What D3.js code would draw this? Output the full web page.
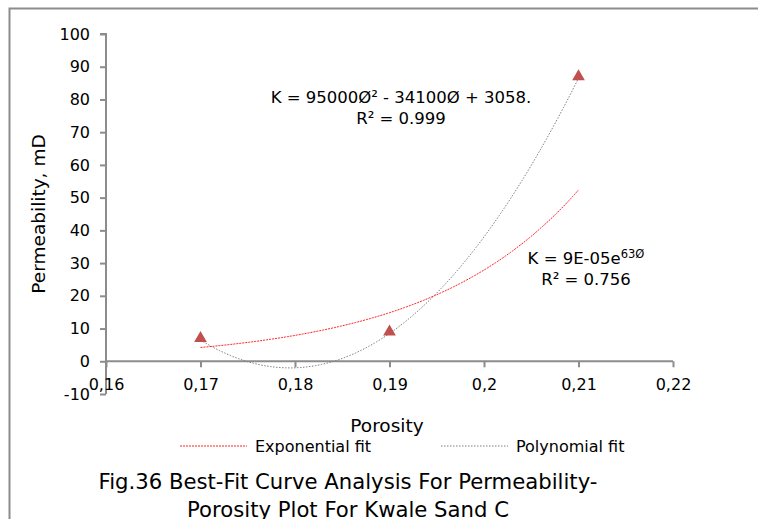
<!DOCTYPE html>
<html>
<head>
<meta charset="utf-8">
<script src="https://cdn.jsdelivr.net/npm/d3@7"></script>
<style>
  body { margin: 0; background: #fff; }
  text { font-family: "DejaVu Sans", Verdana, sans-serif; fill: #000; }
</style>
</head>
<body>
<div id="vis"></div>
<script>
// measured data points (porosity, permeability mD)
var porosity = [0.17, 0.19, 0.21];
var permeability = [7, 9, 87];

// trendline coefficients as labelled on the chart
var polyCoef = [95000, -34100, 3058];   // a*x^2 + b*x + c
var expCoef = [9.4e-5, 63];             // a*e^(b*x)

var xTicks = [0.16, 0.17, 0.18, 0.19, 0.2, 0.21, 0.22];
var yTicks = [-10, 0, 10, 20, 30, 40, 50, 60, 70, 80, 90, 100];

var width = 758, height = 519;

var svg = d3.select('#vis').append('svg')
  .attr('width', width)
  .attr('height', height);

// outer frame (runs off right and bottom edges)
svg.append('rect')
  .attr('x', 9.5).attr('y', 8.5)
  .attr('width', 800).attr('height', 600)
  .attr('fill', 'none')
  .attr('stroke', '#8c8c8c')
  .attr('stroke-width', 2);

var x = d3.scaleLinear().domain([0.16, 0.22]).range([106, 673]);
var y = d3.scaleLinear().domain([-10, 100]).range([394, 34]);

var axisColor = '#8c8c8c';

// y axis
var yAxis = svg.append('g')
  .attr('transform', 'translate(' + x(0.16) + ',0)')
  .call(d3.axisLeft(y).tickValues(yTicks).tickSize(6).tickPadding(10)
    .tickFormat(function (d) { return String(d); }));

// x axis crossing at y = 0
var xAxis = svg.append('g')
  .attr('transform', 'translate(0,' + y(0) + ')')
  .call(d3.axisBottom(x).tickValues(xTicks).tickSize(6).tickPadding(11)
    .tickFormat(function (d) { return String(+d.toFixed(2)).replace('.', ','); }));

[yAxis, xAxis].forEach(function (g) {
  g.select('.domain').attr('stroke', axisColor).attr('stroke-width', 2);
  g.selectAll('.tick line').attr('stroke', axisColor).attr('stroke-width', 2);
  g.selectAll('.tick text').attr('font-size', 16).attr('fill', '#000')
    .style('font-family', '"DejaVu Sans", Verdana, sans-serif');
});
yAxis.select('.domain').attr('d', 'M-6,' + y(100) + 'H0V' + y(-10));
xAxis.select('.domain').attr('d', 'M' + x(0.16) + ',0H' + x(0.22));
xAxis.selectAll('.tick text').attr('dy', '0.71em');

// trendlines
var curveX = d3.range(0, 201).map(function (i) { return 0.17 + i * 0.0002; });
var line = d3.line()
  .x(function (d) { return x(d[0]); })
  .y(function (d) { return y(d[1]); });

var polyPts = curveX.map(function (v) {
  return [v, polyCoef[0] * v * v + polyCoef[1] * v + polyCoef[2]];
});
var expPts = curveX.map(function (v) {
  return [v, expCoef[0] * Math.exp(expCoef[1] * v)];
});

svg.append('path')
  .attr('d', line(expPts))
  .attr('fill', 'none')
  .attr('stroke', '#ff2020')
  .attr('stroke-width', 1)
  .attr('stroke-dasharray', '2,1');

svg.append('path')
  .attr('d', line(polyPts))
  .attr('fill', 'none')
  .attr('stroke', '#7f7f7f')
  .attr('stroke-width', 1)
  .attr('stroke-dasharray', '1.5,1.5');

// markers
var tri = d3.symbol().type(d3.symbolTriangle).size(70);
svg.selectAll('.pt')
  .data(porosity)
  .enter().append('path')
  .attr('class', 'pt')
  .attr('d', tri)
  .attr('transform', function (d, i) {
    return 'translate(' + x(d) + ',' + y(permeability[i]) + ')';
  })
  .attr('fill', '#c0504d');

// trendline labels
svg.append('text').attr('x', 401).attr('y', 103)
  .attr('text-anchor', 'middle').attr('font-size', 16.5)
  .text('K = 95000Ø² - 34100Ø + 3058.');
svg.append('text').attr('x', 401).attr('y', 124)
  .attr('text-anchor', 'middle').attr('font-size', 16.5)
  .text('R² = 0.999');

var expLbl = svg.append('text').attr('x', 586).attr('y', 264)
  .attr('text-anchor', 'middle').attr('font-size', 16.5);
expLbl.append('tspan').text('K = 9E-05e');
expLbl.append('tspan').attr('dy', -6).attr('font-size', 11.5).text('63Ø');
svg.append('text').attr('x', 586).attr('y', 285)
  .attr('text-anchor', 'middle').attr('font-size', 16.5)
  .text('R² = 0.756');

// axis titles
svg.append('text')
  .attr('x', 387).attr('y', 432)
  .attr('text-anchor', 'middle').attr('font-size', 18.5)
  .text('Porosity');

svg.append('text')
  .attr('transform', 'translate(45,' + y(45) + ') rotate(-90)')
  .attr('text-anchor', 'middle').attr('font-size', 18.5)
  .text('Permeability, mD');

// legend
var legend = [
  { name: 'Exponential fit', color: '#ff2020', dash: '2,1', x: 180 },
  { name: 'Polynomial fit', color: '#7f7f7f', dash: '1.5,1.5', x: 441 }
];
legend.forEach(function (d) {
  svg.append('line')
    .attr('x1', d.x).attr('x2', d.x + 67)
    .attr('y1', 446).attr('y2', 446)
    .attr('stroke', d.color).attr('stroke-width', 1)
    .attr('stroke-dasharray', d.dash);
  svg.append('text')
    .attr('x', d.x + 75).attr('y', 452)
    .attr('font-size', 16)
    .text(d.name);
});

// caption
svg.append('text')
  .attr('x', 348).attr('y', 489)
  .attr('text-anchor', 'middle').attr('font-size', 21.2)
  .text('Fig.36 Best-Fit Curve Analysis For Permeability-');
svg.append('text')
  .attr('x', 348).attr('y', 517)
  .attr('text-anchor', 'middle').attr('font-size', 21.2)
  .text('Porosity Plot For Kwale Sand C');
</script>
</body>
</html>
